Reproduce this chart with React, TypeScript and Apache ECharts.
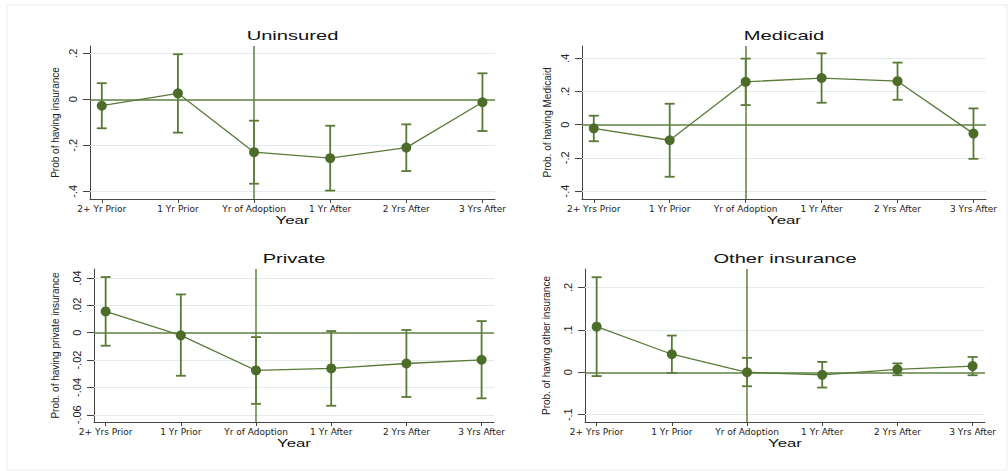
import React, { useEffect, useRef } from "react";
import * as echarts from "echarts";

// ---- Data ----
const categoriesA = ["2+ Yr Prior", "1 Yr Prior", "Yr of Adoption", "1 Yr After", "2 Yrs After", "3 Yrs After"];
const categoriesB = ["2+ Yrs Prior", "1 Yr Prior", "Yr of Adoption", "1 Yr After", "2 Yrs After", "3 Yrs After"];
const positions = [1, 2, 3, 4, 5, 6];

const uninsuredEst = [-0.028, 0.026, -0.230, -0.256, -0.210, -0.013];
const uninsuredLo = [-0.126, -0.145, -0.367, -0.397, -0.312, -0.138];
const uninsuredHi = [0.070, 0.196, -0.093, -0.115, -0.109, 0.113];

const medicaidEst = [-0.022, -0.094, 0.258, 0.281, 0.262, -0.054];
const medicaidLo = [-0.100, -0.314, 0.118, 0.132, 0.150, -0.206];
const medicaidHi = [0.054, 0.126, 0.398, 0.430, 0.374, 0.098];

const privateEst = [0.0156, -0.0019, -0.0276, -0.0261, -0.0225, -0.0198];
const privateLo = [-0.0095, -0.0315, -0.0520, -0.0534, -0.0470, -0.0480];
const privateHi = [0.0407, 0.0280, -0.0032, 0.0012, 0.0020, 0.0085];

const otherEst = [0.1075, 0.0425, 0.0, -0.006, 0.007, 0.0145];
const otherLo = [-0.009, -0.0016, -0.033, -0.036, -0.007, -0.007];
const otherHi = [0.224, 0.0866, 0.034, 0.0244, 0.021, 0.036];

const ticksUninsured = [-0.4, -0.2, 0, 0.2];
const ticksMedicaid = [-0.4, -0.2, 0, 0.2, 0.4];
const ticksPrivate = [-0.06, -0.04, -0.02, 0, 0.02, 0.04];
const ticksOther = [-0.1, 0, 0.1, 0.2];

const titles = ["Uninsured", "Medicaid", "Private", "Other insurance"];
const yTitles = [
  "Prob of having insurance",
  "Prob. of having Medicaid",
  "Prob. of having private insurance",
  "Prob. of having other insurance",
];
const adoptionPos = 3;

// ---- Styles / layout ----
const GREEN = "#4c6c2a";
const GREEN_LINE = "#587a36";
const REF_LINE = "#5f8040";
const GRID_COLOR = "#e4ebec";
const AXIS_COLOR = "#444";

const panels = [
  { est: uninsuredEst, lo: uninsuredLo, hi: uninsuredHi, cats: categoriesA, ticks: ticksUninsured,
    ymin: -0.4335, ymax: 0.2317, grid: { left: 90, top: 46, width: 405, height: 153 }, nameGap: 30 },
  { est: medicaidEst, lo: medicaidLo, hi: medicaidHi, cats: categoriesB, ticks: ticksMedicaid,
    ymin: -0.448, ymax: 0.474, grid: { left: 582, top: 46, width: 404, height: 153 }, nameGap: 30 },
  { est: privateEst, lo: privateLo, hi: privateHi, cats: categoriesB, ticks: ticksPrivate,
    ymin: -0.0653, ymax: 0.0466, grid: { left: 94, top: 269, width: 400, height: 153 }, nameGap: 34 },
  { est: otherEst, lo: otherLo, hi: otherHi, cats: categoriesB, ticks: ticksOther,
    ymin: -0.1172, ymax: 0.2434, grid: { left: 585, top: 269, width: 400, height: 153 }, nameGap: 34 },
];

function fmtY(v: number): string {
  if (Math.abs(v) < 1e-9) return "0";
  const s = Math.abs(v).toFixed(2).replace(/0+$/, "").replace(/^0/, "");
  return (v < 0 ? "-" : "") + s;
}

function buildOption() {
  const grid: any[] = [];
  const xAxis: any[] = [];
  const yAxis: any[] = [];
  const series: any[] = [];
  const graphic: any[] = [];

  panels.forEach((p, i) => {
    grid.push({ ...p.grid, containLabel: false });
    xAxis.push({
      type: "value",
      gridIndex: i,
      min: 0.845,
      max: 6.165,
      axisLine: { show: true, onZero: false, lineStyle: { color: AXIS_COLOR, width: 1 } },
      axisTick: { show: true, length: 4, customValues: positions, lineStyle: { color: AXIS_COLOR } },
      axisLabel: {
        customValues: positions,
        formatter: (v: number) => p.cats[Math.round(v) - 1] ?? "",
        fontFamily: "DejaVu Sans",
        fontSize: 9,
        color: "#222",
        margin: 5,
      },
      splitLine: { show: false },
    });
    yAxis.push({
      type: "value",
      gridIndex: i,
      min: p.ymin,
      max: p.ymax,
      name: yTitles[i],
      nameLocation: "middle",
      nameGap: p.nameGap,
      nameTextStyle: { fontFamily: "Liberation Sans", fontSize: 10, color: "#222" },
      axisLine: { show: true, onZero: false, lineStyle: { color: AXIS_COLOR, width: 1 } },
      axisTick: { show: true, length: 7, customValues: p.ticks, lineStyle: { color: AXIS_COLOR } },
      axisLabel: {
        customValues: p.ticks,
        formatter: fmtY,
        rotate: 90,
        fontFamily: "Liberation Sans",
        fontSize: 11,
        color: "#222",
        margin: 12,
      },
      splitLine: { show: false },
    });

    const ebData = positions.map((x, k) => [x, p.lo[k], p.hi[k]]);
    series.push({
      type: "custom",
      xAxisIndex: i,
      yAxisIndex: i,
      data: ebData,
      encode: { x: 0, y: [1, 2] },
      z: 3,
      silent: true,
      renderItem: (params: any, api: any) => {
        const x = api.value(0);
        const top = api.coord([x, api.value(2)]);
        const bot = api.coord([x, api.value(1)]);
        const hw = 5;
        const style = { stroke: GREEN_LINE, lineWidth: 1.8, fill: "none" };
        return {
          type: "group",
          children: [
            { type: "line", shape: { x1: top[0], y1: top[1], x2: bot[0], y2: bot[1] }, style },
            { type: "line", shape: { x1: top[0] - hw, y1: top[1], x2: top[0] + hw, y2: top[1] }, style },
            { type: "line", shape: { x1: bot[0] - hw, y1: bot[1], x2: bot[0] + hw, y2: bot[1] }, style },
          ],
        };
      },
      markLine: {
        silent: true,
        symbol: "none",
        label: { show: false },
        lineStyle: { color: GRID_COLOR, width: 1, type: "solid" },
        z: 1,
        data: p.ticks.filter((t) => Math.abs(t) > 1e-9).map((t) => ({ yAxis: t })),
      },
    });

    series.push({
      type: "line",
      xAxisIndex: i,
      yAxisIndex: i,
      data: positions.map((x, k) => [x, p.est[k]]),
      symbol: "circle",
      symbolSize: 10,
      itemStyle: { color: GREEN },
      lineStyle: { color: GREEN_LINE, width: 1.3 },
      z: 5,
      silent: true,
      markLine: {
        silent: true,
        symbol: "none",
        label: { show: false },
        lineStyle: { color: REF_LINE, width: 1.5, type: "solid" },
        data: [{ xAxis: adoptionPos }, { yAxis: 0 }],
      },
    });

    const cx = p.grid.left + p.grid.width / 2;
    graphic.push({
      type: "text",
      x: cx,
      y: p.grid.top - 10,
      scaleX: 1.55,
      style: {
        text: titles[i],
        font: "13px 'Liberation Sans', Arial, sans-serif",
        fill: "#111",
        align: "center",
        verticalAlign: "middle",
        textAlign: "center",
        textVerticalAlign: "middle",
      },
    });
    graphic.push({
      type: "text",
      x: cx,
      y: p.grid.top + p.grid.height + 21,
      scaleX: 1.6,
      style: {
        text: "Year",
        font: "10.5px 'Liberation Sans', Arial, sans-serif",
        fill: "#111",
        align: "center",
        verticalAlign: "middle",
        textAlign: "center",
        textVerticalAlign: "middle",
      },
    });
  });

  graphic.push({
    type: "rect",
    shape: { x: 7, y: 5, width: 1000, height: 465 },
    style: { fill: "none", stroke: "#ececec", lineWidth: 1 },
    z: -10,
  });

  return {
    animation: false,
    backgroundColor: "#ffffff",
    grid,
    xAxis,
    yAxis,
    series,
    graphic,
  };
}

export default function App() {
  const ref = useRef<HTMLDivElement>(null);
  useEffect(() => {
    if (!ref.current) return;
    const chart = echarts.init(ref.current, null, { renderer: "svg" });
    chart.setOption(buildOption() as any);
    return () => chart.dispose();
  }, []);
  return (
    <div
      ref={ref}
      style={{ position: "fixed", left: 0, top: 0, width: 1008, height: 471, background: "#fff" }}
    />
  );
}
